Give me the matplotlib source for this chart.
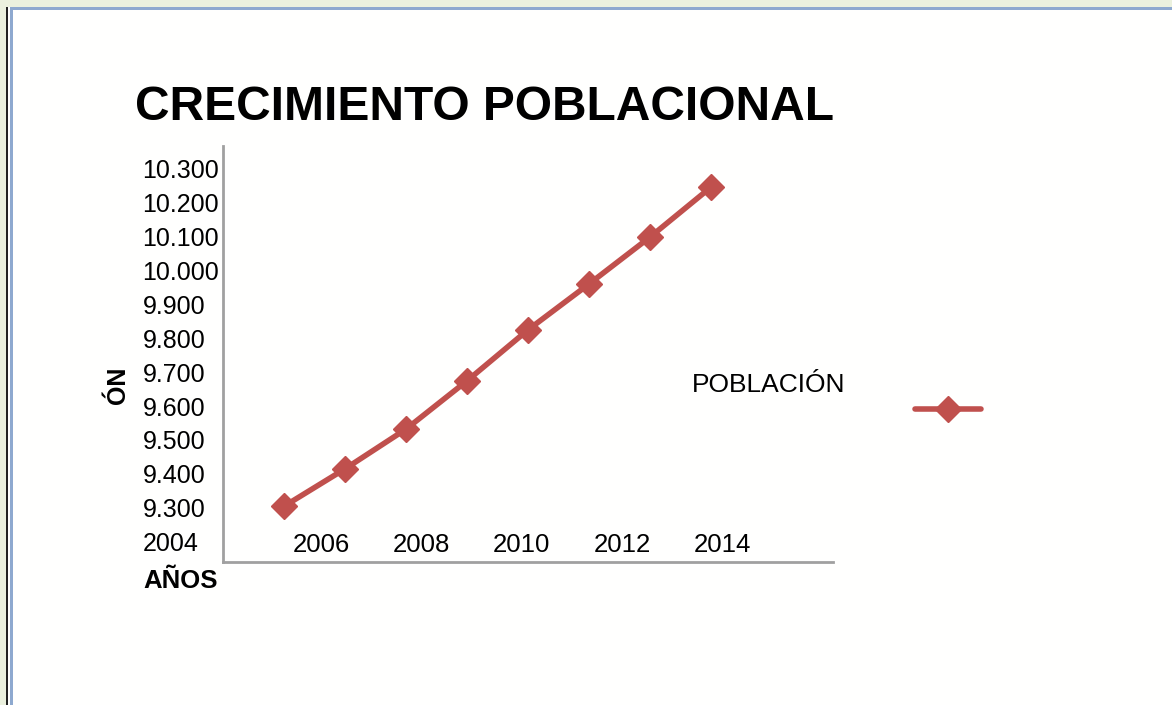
import matplotlib
matplotlib.use('Agg')
import matplotlib.pyplot as plt
from matplotlib.patches import Rectangle
from matplotlib.lines import Line2D

plt.rcParams['font.family'] = ['Liberation Sans', 'DejaVu Sans']

# population per point
poblacion = [9305, 9415, 9532, 9674, 9824, 9959, 10097, 10244]
puntos = list(range(len(poblacion)))

# y tick values and labels as shown (the lowest one shows a year)
y_ticks = [9200, 9300, 9400, 9500, 9600, 9700, 9800, 9900, 10000, 10100, 10200, 10300]
y_labels = ['2004', '9.300', '9.400', '9.500', '9.600', '9.700', '9.800',
            '9.900', '10.000', '10.100', '10.200', '10.300']

# x tick labels and where they sit along the category axis
x_ticks = [0.62, 2.26, 3.90, 5.54, 7.18]
x_labels = ['2006', '2008', '2010', '2012', '2014']

rojo = '#C0504D'
gris = '#A0A0A0'

fig = plt.figure(figsize=(11.72, 7.05), dpi=100)
fig.patch.set_facecolor('#FFFFFE')

# page frame from the screenshot
W, H = 1172, 705
def px(x, y, w, h, c):
    fig.add_artist(Rectangle((x / W, 1 - (y + h) / H), w / W, h / H,
                             transform=fig.transFigure, color=c, lw=0, zorder=0))
px(0, 0, W, 7, '#EBF1DE')
px(0, 0, 6, H, '#EBF1DE')
px(6, 7, 1.5, H, '#222222')
px(10, 7, W, 2.5, '#8EA9CF')
px(10, 7, 2.5, H, '#8EA9CF')

ax = fig.add_axes([223 / W, 1 - 562 / H, 610 / W, 416 / H])
ax.set_facecolor('none')
ax.plot(puntos, poblacion, color=rojo, lw=4, marker='D', ms=13,
        solid_capstyle='round')

ax.set_xlim(-1, 9)
ax.set_ylim(9141, 10365)

for s in ['top', 'right']:
    ax.spines[s].set_visible(False)
for s in ['left', 'bottom']:
    ax.spines[s].set_color(gris)
    ax.spines[s].set_linewidth(2)

ax.set_yticks(y_ticks)
ax.set_yticklabels(y_labels, fontsize=18, ha='left')
ax.tick_params(axis='y', length=0, pad=58)

ax.set_xticks(x_ticks)
ax.set_xticklabels(x_labels, fontsize=18.5)
ax.tick_params(axis='x', length=0, pad=-21)

fig.text(135 / W, 1 - 107 / H, 'CRECIMIENTO POBLACIONAL', fontsize=34.5,
         fontweight='bold', va='center', ha='left')
fig.text(118 / W, 1 - 385 / H, 'ÓN', fontsize=18, fontweight='bold',
         rotation=90, va='center', ha='center')
fig.text(143 / W, 1 - 581 / H, 'AÑOS', fontsize=18.5, fontweight='bold',
         va='center', ha='left')
fig.text(692 / W, 1 - 385 / H, 'POBLACIÓN', fontsize=19, va='center', ha='left')

muestra = Line2D([], [], color=rojo, lw=4, marker='D', ms=13,
                 solid_capstyle='round')
fig.legend(handles=[muestra], labels=[''], frameon=False, handlelength=2.8,
           loc='center', bbox_to_anchor=(948 / W, 1 - 411 / H),
           handletextpad=0, borderpad=0, borderaxespad=0,
           prop={'size': 17})

fig.savefig('out.png', dpi=100, facecolor=fig.get_facecolor())
